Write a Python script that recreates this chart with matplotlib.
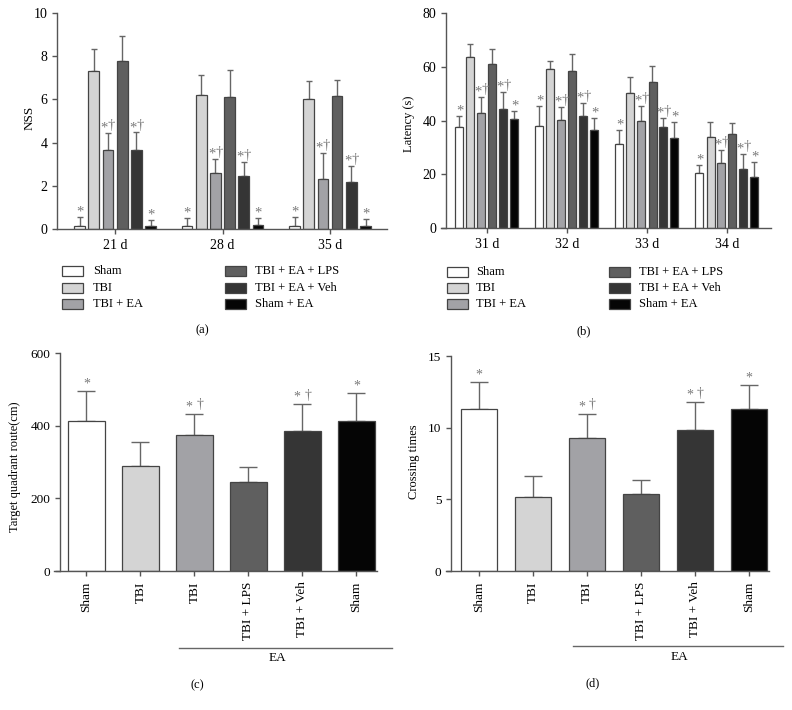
import matplotlib
matplotlib.use("Agg")
import matplotlib.pyplot as plt
from matplotlib.patches import Rectangle
from matplotlib.lines import Line2D
import numpy as np

plt.rcParams['font.family'] = ['Liberation Serif', 'DejaVu Serif']

W, H = 792, 710

# groups and colours
groups = ['Sham', 'TBI', 'TBI + EA', 'TBI + EA + LPS', 'TBI + EA + Veh', 'Sham + EA']
colors = ['#ffffff', '#d4d4d4', '#a2a2a6', '#5f5f5f', '#353535', '#050505']
edge = '#444444'
err_col = '#666666'
mark_col = '#7a7a7a'

# (a) neurological severity score, rows = groups, columns = days
nss_days = ['21 d', '28 d', '35 d']
nss_mean = [[0.15, 0.12, 0.15],
            [7.30, 6.20, 6.00],
            [3.65, 2.58, 2.31],
            [7.80, 6.13, 6.16],
            [3.65, 2.47, 2.16],
            [0.12, 0.17, 0.15]]
nss_sem = [[0.40, 0.38, 0.39],
           [1.05, 0.93, 0.87],
           [0.80, 0.66, 1.21],
           [1.15, 1.22, 0.74],
           [0.82, 0.63, 0.74],
           [0.30, 0.33, 0.31]]

# (b) escape latency
lat_days = ['31 d', '32 d', '33 d', '34 d']
lat_mean = [[37.7, 38.1, 31.1, 20.3],
            [63.8, 59.1, 50.1, 33.8],
            [42.7, 40.3, 39.9, 24.3],
            [61.1, 58.3, 54.4, 35.0],
            [44.2, 41.5, 37.6, 21.9],
            [40.4, 36.4, 33.6, 18.9]]
lat_sem = [[4.0, 7.3, 5.3, 3.3],
           [4.6, 3.2, 6.2, 5.6],
           [6.2, 4.6, 5.6, 4.9],
           [5.6, 6.5, 6.0, 4.2],
           [6.3, 4.9, 3.2, 5.8],
           [3.3, 4.4, 6.0, 5.5]]

# significance marks per group: (asterisk, dagger)
star = [True, False, True, False, True, True]
dagger = [False, False, True, False, True, False]

# (c) and (d)
cd_labels = ['Sham', 'TBI', 'TBI', 'TBI + LPS', 'TBI + Veh', 'Sham']
route_mean = [414, 288, 375, 245, 386, 412]
route_sem = [82, 67, 57, 42, 73, 78]
cross_mean = [11.31, 5.15, 9.31, 5.34, 9.84, 11.31]
cross_sem = [1.88, 1.49, 1.65, 1.02, 1.93, 1.65]


def rect(l, t, r, b):
    return [l / W, 1 - b / H, (r - l) / W, (b - t) / H]


def style_axes(ax, inward_px=0):
    for s in ['top', 'right']:
        ax.spines[s].set_visible(False)
    for s in ['left', 'bottom']:
        ax.spines[s].set_color('#555555')
        ax.spines[s].set_linewidth(1.0)
    if inward_px:
        ax.spines['left'].set_position(('outward', -inward_px * 0.72))
    ax.tick_params(axis='both', colors='#555555', labelcolor='black',
                   length=3.5, width=1.0, direction='out')


def put_marks(ax, i, p, top, fs, gap, lift):
    # asterisk and dagger drawn side by side above the error cap
    if not star[i]:
        return
    if dagger[i]:
        ax.annotate('*', (p, top), xytext=(-gap, lift), textcoords='offset points',
                    ha='center', va='baseline', fontsize=fs, color=mark_col)
        ax.annotate('†', (p, top), xytext=(gap, lift + 1.5), textcoords='offset points',
                    ha='center', va='baseline', fontsize=fs, color=mark_col)
    else:
        ax.annotate('*', (p, top), xytext=(0, lift), textcoords='offset points',
                    ha='center', va='baseline', fontsize=fs, color=mark_col)


def grouped(ax, days, mean, sem, width, step, capsize, fs):
    x = np.arange(len(days))
    n = len(groups)
    for i in range(n):
        pos = x + (i - (n - 1) / 2) * step
        m = np.array(mean[i])
        e = np.array(sem[i])
        ax.bar(pos, m, width, color=colors[i], edgecolor=edge, linewidth=0.9, zorder=2)
        ax.errorbar(pos, m, yerr=[np.zeros_like(e), e], fmt='none', ecolor=err_col,
                    elinewidth=1.0, capsize=capsize, capthick=1.0, zorder=1)
        for p, top in zip(pos, m + e):
            put_marks(ax, i, p, top, fs, 2.6, 1.0)
    ax.set_xticks(x)
    ax.set_xticklabels(days, fontsize=10)
    ax.tick_params(axis='y', labelsize=10)


def legend(fig, x_cols, y_rows):
    k = 0
    for col in range(2):
        bx, tx = x_cols[col]
        for row in range(3):
            yc = y_rows[row]
            fig.add_artist(Rectangle((bx / W, 1 - (yc + 5) / H), 21 / W, 10 / H,
                                     transform=fig.transFigure, facecolor=colors[k],
                                     edgecolor=edge, linewidth=0.9))
            fig.text(tx / W, 1 - yc / H, groups[k], fontsize=9, ha='left', va='center')
            k += 1


def single(ax, mean, sem, fs):
    x = np.arange(len(mean))
    m = np.array(mean)
    e = np.array(sem)
    ax.bar(x, m, 0.68, color=colors, edgecolor=edge, linewidth=0.9, zorder=2)
    ax.errorbar(x, m, yerr=[np.zeros_like(e), e], fmt='none', ecolor=err_col,
                elinewidth=1.0, capsize=6.5, capthick=1.0, zorder=1)
    for i, (p, top) in enumerate(zip(x, m + e)):
        put_marks(ax, i, p, top, fs, 4.0, 2.5)
    ax.set_xticks(x)
    ax.set_xticklabels(cd_labels, rotation=90, fontsize=9.5, va='top')
    ax.tick_params(axis='y', labelsize=9.5)
    ax.tick_params(axis='x', pad=4)


fig = plt.figure(figsize=(W / 100, H / 100), dpi=100)

# (a)
ax_a = fig.add_axes(rect(57, 13, 387, 229))
style_axes(ax_a)
grouped(ax_a, nss_days, nss_mean, nss_sem, 0.1, 0.132, 2.5, 10.5)
ax_a.set_ylim(0, 10)
ax_a.set_yticks([0, 2, 4, 6, 8, 10])
ax_a.set_xlim(-0.54, 2.53)
fig.text(30 / W, 1 - 118 / H, 'NSS', rotation=90, fontsize=9.5, ha='center', va='center')
legend(fig, [(62, 93), (225, 255)], [271, 288, 304])
fig.text(202 / W, 1 - 330 / H, '(a)', fontsize=9, ha='center', va='center')

# (b)
ax_b = fig.add_axes(rect(441, 13, 771, 228))
style_axes(ax_b, inward_px=5)
grouped(ax_b, lat_days, lat_mean, lat_sem, 0.1, 0.1375, 2.2, 10.5)
ax_b.set_ylim(0, 80)
ax_b.set_yticks([0, 20, 40, 60, 80])
ax_b.set_xlim(-0.575, 3.55)
fig.text(409 / W, 1 - 124 / H, 'Latency (s)', rotation=90, fontsize=9, ha='center', va='center')
legend(fig, [(447, 476), (609, 639)], [272, 288, 304])
fig.text(584 / W, 1 - 331 / H, '(b)', fontsize=9, ha='center', va='center')

# (c)
ax_c = fig.add_axes(rect(54, 353, 377, 571))
style_axes(ax_c, inward_px=6)
single(ax_c, route_mean, route_sem, 10)
ax_c.set_ylim(0, 600)
ax_c.set_yticks([0, 200, 400, 600])
ax_c.set_xlim(-0.6, 5.38)
fig.text(15 / W, 1 - 467 / H, 'Target quadrant route(cm)', rotation=90, fontsize=9,
         ha='center', va='center')
fig.add_artist(Line2D([179 / W, 392 / W], [1 - 648 / H, 1 - 648 / H],
                      transform=fig.transFigure, color='#666666', linewidth=1.0))
fig.text(277 / W, 1 - 658 / H, 'EA', fontsize=9.5, ha='center', va='center')
fig.text(197 / W, 1 - 685 / H, '(c)', fontsize=9, ha='center', va='center')

# (d)
ax_d = fig.add_axes(rect(446, 356, 769, 571))
style_axes(ax_d, inward_px=5)
single(ax_d, cross_mean, cross_sem, 10)
ax_d.set_ylim(0, 15)
ax_d.set_yticks([0, 5, 10, 15])
ax_d.set_xlim(-0.61, 5.37)
fig.text(414 / W, 1 - 462 / H, 'Crossing times', rotation=90, fontsize=9,
         ha='center', va='center')
fig.add_artist(Line2D([573 / W, 783 / W], [1 - 646 / H, 1 - 646 / H],
                      transform=fig.transFigure, color='#666666', linewidth=1.0))
fig.text(679 / W, 1 - 657 / H, 'EA', fontsize=9.5, ha='center', va='center')
fig.text(593 / W, 1 - 683 / H, '(d)', fontsize=9, ha='center', va='center')

fig.savefig('out.png', dpi=100)
